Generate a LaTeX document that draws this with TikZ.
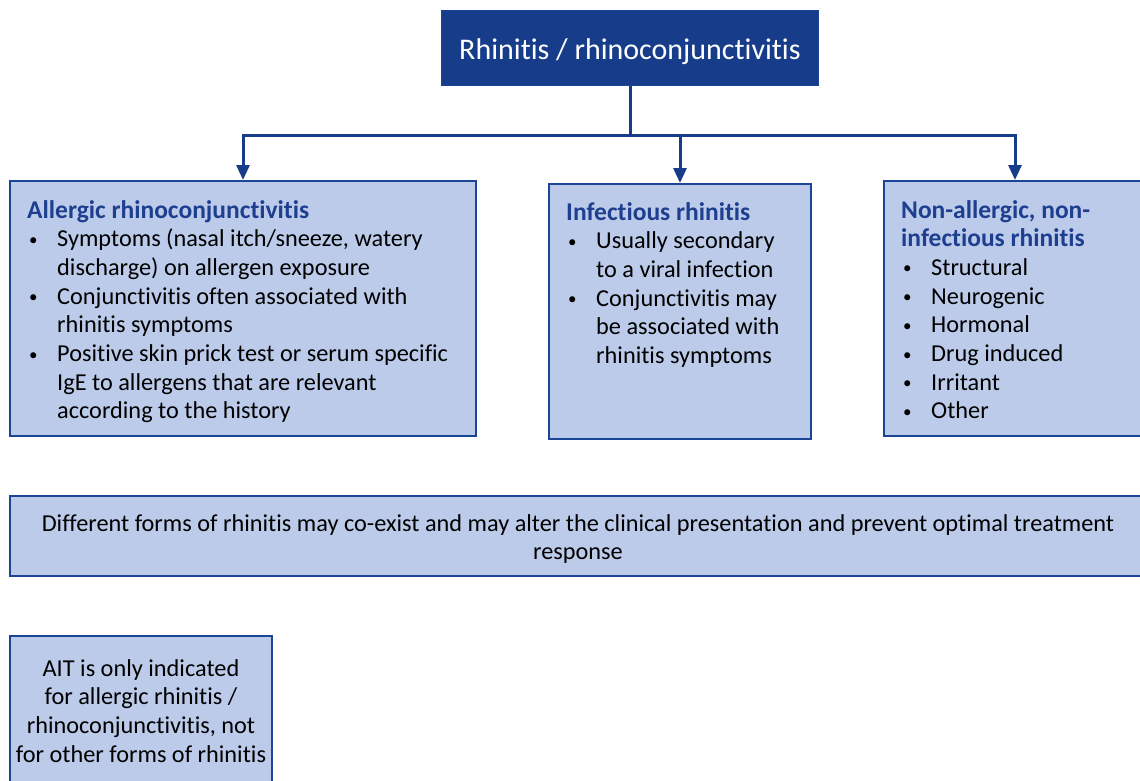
\documentclass[tikz,border=0pt]{standalone}
\usepackage{fontspec}
\setmainfont{Carlito}[Ligatures=NoCommon]
\usetikzlibrary{arrows.meta}
\definecolor{navy}{HTML}{173D8A}
\definecolor{lightfill}{HTML}{BCCBEA}
\definecolor{edgec}{HTML}{1B4595}
\definecolor{headc}{HTML}{1E3F8F}
\newcommand{\bul}{\makebox[30pt][l]{\hspace{2pt}\raisebox{1.5pt}{\fontsize{17}{17}\selectfont\textbullet}}}
\newcommand{\cont}{\hspace*{30pt}}
\newcommand{\hd}[1]{{\fontsize{25.5}{28.7}\selectfont\bfseries\color{headc}#1}}
\tikzset{
  box/.style={draw=edgec, line width=2pt, fill=lightfill, rectangle, inner sep=0pt},
  txt/.style={inner sep=0pt, font=\fontsize{24.3}{28.7}\selectfont, text=black},
  conn/.style={draw=navy, line width=3pt},
  arr/.style={conn, -{Triangle[length=15pt,width=13pt]}}
}
\begin{document}
\begin{tikzpicture}[x=1pt,y=-1pt]
\useasboundingbox (0,0) rectangle (1140,780);
\clip (0,0) rectangle (1140,780);
% title
\node[fill=navy, draw=edgec, line width=1pt, minimum width=377pt, minimum height=75pt, inner sep=0pt] (title) at (630,47.5) {};
\node[inner sep=0pt, anchor=base, text=white, font=\fontsize{30}{34}\selectfont] (titletxt) at (630,59) {Rhinitis / rhinoconjunctivitis};
% boxes
\node[box, minimum width=466pt, minimum height=255pt] (b1) at (243,308.5) {};
\node[box, minimum width=262pt, minimum height=255pt] (b2) at (680,311.5) {};
\node[box, minimum width=262pt, minimum height=255pt] (b3) at (1015,308.5) {};
\node[box, minimum width=1136pt, minimum height=80pt] (b4) at (578,536) {};
\node[box, minimum width=262pt, minimum height=170pt] (b5) at (141,721) {};
% connectors
\coordinate (hub) at (630,135);
\draw[conn] (title.south) -- (hub);
\draw[arr] (hub) -| (b1.north);
\draw[arr] (hub) -| (b2.north);
\draw[arr] (hub) -| (b3.north);
% texts (anchor = baseline of last line)
\node[txt, anchor=base west, align=left] (t1) at (27,418.9) {%
\hd{Allergic rhinoconjunctivitis}\\
\bul Symptoms (nasal itch/sneeze, watery\\
\cont discharge) on allergen exposure\\
\bul Conjunctivitis often associated with\\
\cont rhinitis symptoms\\
\bul Positive skin prick test or serum specific\\
\cont IgE to allergens that are relevant\\
\cont according to the history};
\node[txt, anchor=base west, align=left] (t2) at (566,363.5) {%
\hd{Infectious rhinitis}\\
\bul Usually secondary\\
\cont to a viral infection\\
\bul Conjunctivitis may\\
\cont be associated with\\
\cont rhinitis symptoms};
\node[txt, anchor=base west, align=left] (t3) at (901,418.9) {%
\hd{Non-allergic, non-}\\
\hd{infectious rhinitis}\\
\bul Structural\\
\bul Neurogenic\\
\bul Hormonal\\
\bul Drug induced\\
\bul Irritant\\
\bul Other};
\node[txt, anchor=base, align=center] (t4) at (578,559.7) {%
Different forms of rhinitis may co-exist and may alter the clinical presentation and prevent optimal treatment\\
response};
\node[txt, anchor=base, align=center] (t5) at (141,762.1) {%
AIT is only indicated\\
for allergic rhinitis /\\
rhinoconjunctivitis, not\\
for other forms of rhinitis};
\end{tikzpicture}
\end{document}
